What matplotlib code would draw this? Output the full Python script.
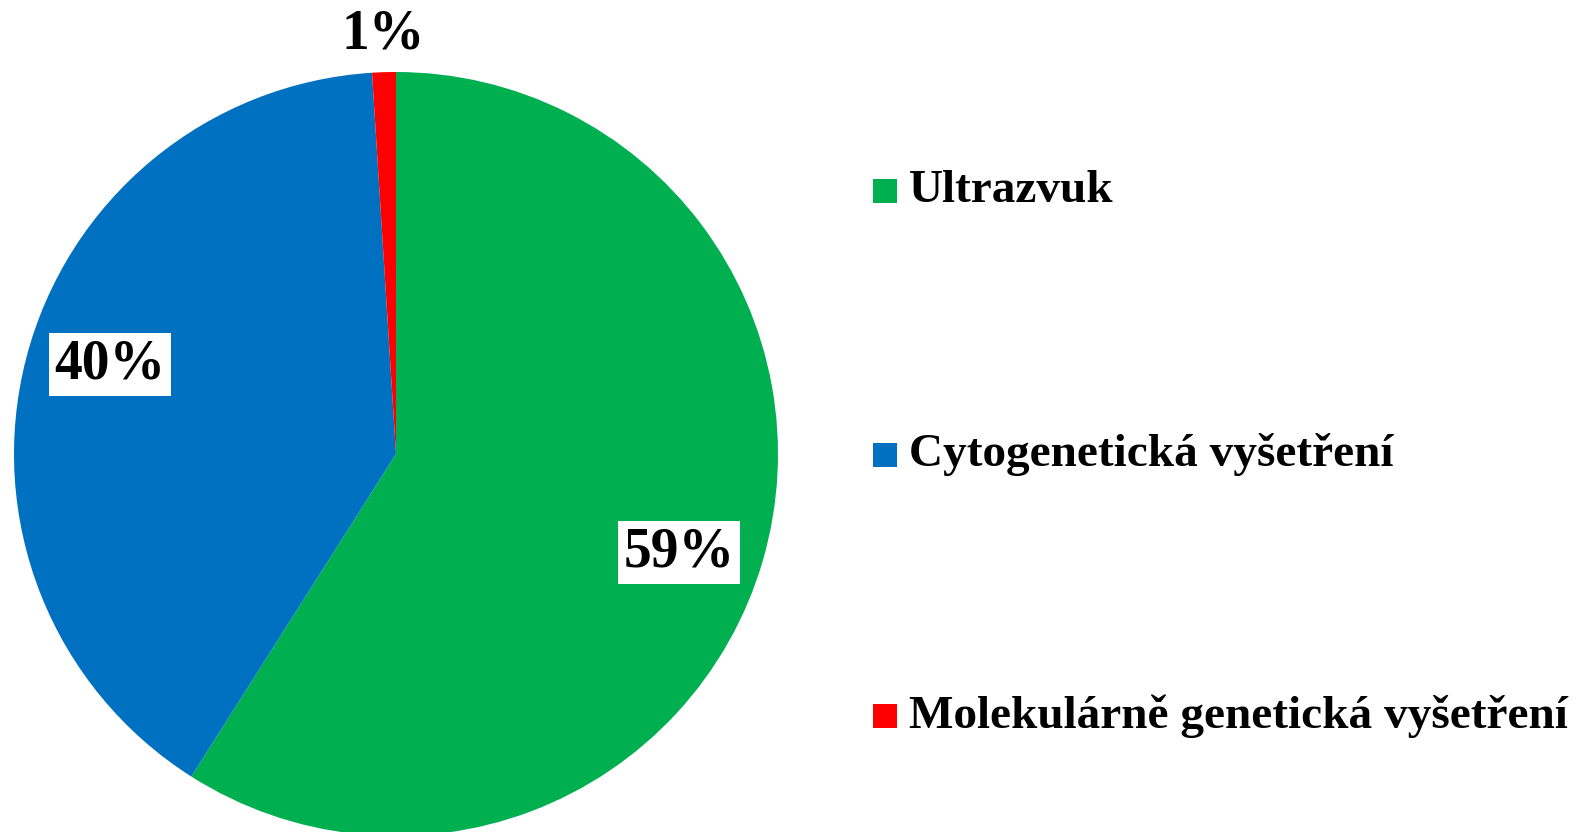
import numpy as np
import matplotlib
matplotlib.use('Agg')
from matplotlib import pyplot as plt
from matplotlib.patches import Rectangle

labels = ['Ultrazvuk', 'Cytogenetická vyšetření', 'Molekulárně genetická vyšetření']
values = [59, 40, 1]
colors = ['#00B050', '#0070C0', '#FF0000']

plt.rcParams['font.family'] = ['Liberation Serif', 'DejaVu Serif']
plt.rcParams['font.weight'] = 'bold'

W, H = 1585, 832
fig = plt.figure(figsize=(W / 100, H / 100), dpi=100)

# pie placed in pixels: centre (396, 454 from top), radius 382
cx, cy, r = 396, 454, 382
ax = fig.add_axes([(cx - r) / W, (H - cy - r) / H, 2 * r / W, 2 * r / H])
wedges, texts, autotexts = ax.pie(values, colors=colors, startangle=90, counterclock=False,
                                  autopct=lambda p: '%d%%' % round(p), pctdistance=0.79,
                                  radius=1, wedgeprops=dict(linewidth=0))
ax.set_xlim(-1, 1)
ax.set_ylim(-1, 1)
ax.set_aspect('equal')
ax.axis('off')

for i, t in enumerate(autotexts):
    t.set_fontsize(40)
    t.set_fontweight('bold')
    t.set_color('black')
    w = wedges[i]
    ang = np.deg2rad((w.theta1 + w.theta2) / 2)
    if values[i] < 5:
        t.set_position((1.1 * np.cos(ang), 1.1 * np.sin(ang)))
    else:
        ang -= np.deg2rad(3)
        t.set_position((0.785 * np.cos(ang), 0.785 * np.sin(ang)))
        t.set_bbox(dict(facecolor='white', edgecolor='none', boxstyle='square,pad=0.1'))

# legend
rows_y = [191, 455, 716]
for lab, col, yy in zip(labels, colors, rows_y):
    fig.patches.append(Rectangle((873 / W, (H - yy - 12) / H), 24 / W, 24 / H,
                                 transform=fig.transFigure, facecolor=col, edgecolor='none'))
    fig.text(909 / W, (H - yy) / H, lab, fontsize=34, fontweight='bold',
             va='center', ha='left')

fig.savefig('out.png', dpi=100)
